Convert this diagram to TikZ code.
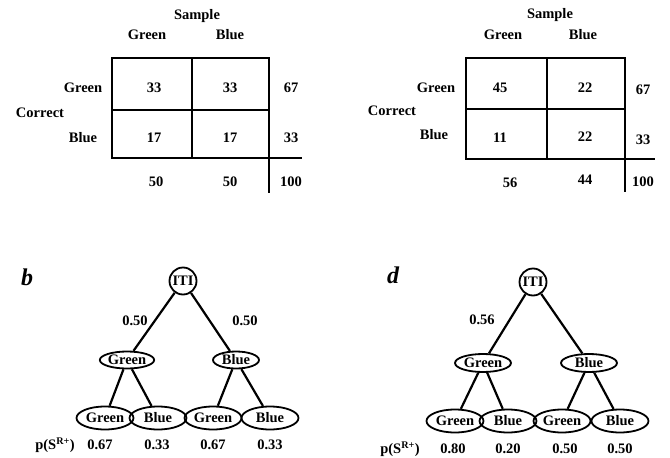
\documentclass[tikz,border=0pt]{standalone}
\usepackage{fontspec}
\setmainfont{Liberation Serif}
\usetikzlibrary{shapes.geometric}

\begin{document}
\begin{tikzpicture}[x=1pt,y=-1pt,
  lbl/.style={font=\fontsize{14.5}{16}\selectfont\bfseries, inner sep=0pt},
  panel/.style={font=\fontsize{24}{26}\selectfont\bfseries\itshape, inner sep=0pt},
  grid/.style={line width=2.2pt},
  edge/.style={line width=2.2pt},
  iti/.style={circle, draw, line width=1.8pt, inner sep=0pt, minimum size=27, lbl},
  midB/.style={ellipse, draw, line width=1.8pt, inner sep=0pt, minimum width=46, minimum height=17, lbl},
  midD/.style={ellipse, draw, line width=1.8pt, inner sep=0pt, minimum width=56, minimum height=18, lbl},
  leaf/.style={ellipse, draw, line width=1.8pt, inner sep=0pt, minimum width=57, minimum height=23, lbl},
]
\useasboundingbox (0,0) rectangle (670,458);

% ---------- contingency table, left ----------
\draw[grid] (112,58) rectangle (269,158);
\draw[grid] (192,58) -- (192,158);
\draw[grid] (112,110) -- (269,110);
\draw[grid] (269,158) -- (302,158);
\draw[grid] (269,158) -- (269,193);
\node[lbl] (sa) at (197,16) {Sample};
\node[lbl] (sag) at (147,35) {Green};
\node[lbl] (sab) at (230,35) {Blue};
\node[lbl] (cag) at (83,88) {Green};
\node[lbl] (ca) at (40,113) {Correct};
\node[lbl] (cab) at (83,138) {Blue};
\node[lbl] (a11) at (154,88) {33};
\node[lbl] (a12) at (230,88) {33};
\node[lbl] (a1t) at (291,88) {67};
\node[lbl] (a21) at (154,138) {17};
\node[lbl] (a22) at (230,138) {17};
\node[lbl] (a2t) at (291,138) {33};
\node[lbl] (at1) at (156,182) {50};
\node[lbl] (at2) at (230,182) {50};
\node[lbl] (att) at (291,182) {100};

% ---------- contingency table, right ----------
\draw[grid] (466,58) rectangle (625,159);
\draw[grid] (547,58) -- (547,159);
\draw[grid] (466,109) -- (625,109);
\draw[grid] (625,159) -- (655,159);
\draw[grid] (625,159) -- (625,192);
\node[lbl] (sc) at (550,15) {Sample};
\node[lbl] (scg) at (503,35) {Green};
\node[lbl] (scb) at (583,35) {Blue};
\node[lbl] (ccg) at (436,88) {Green};
\node[lbl] (cc) at (392,111) {Correct};
\node[lbl] (ccb) at (434,135) {Blue};
\node[lbl] (c11) at (500,88) {45};
\node[lbl] (c12) at (585,88) {22};
\node[lbl] (c1t) at (643,90) {67};
\node[lbl] (c21) at (500,138) {11};
\node[lbl] (c22) at (585,137) {22};
\node[lbl] (c2t) at (643,140) {33};
\node[lbl] (ct1) at (510,183) {56};
\node[lbl] (ct2) at (585,180) {44};
\node[lbl] (ctt) at (643,182) {100};

% ---------- tree b ----------
\node[panel] (pb) at (27,277) {b};
\node[iti] (bi) at (183,281) {ITI};
\node[midB] (bg) at (127,360) {Green};
\node[midB] (bb) at (236,360) {Blue};
\node[leaf] (bgg) at (105,418) {Green};
\node[leaf] (bgb) at (158,418) {Blue};
\node[leaf] (bbg) at (213,418) {Green};
\node[leaf] (bbb) at (270,418) {Blue};
\draw[edge] (bi) -- (bg);
\draw[edge] (bi) -- (bb);
\draw[edge] (bg) -- (bgg);
\draw[edge] (bg) -- (bgb);
\draw[edge] (bb) -- (bbg);
\draw[edge] (bb) -- (bbb);
\node[lbl] (bl1) at (135,321) {0.50};
\node[lbl] (bl2) at (245,321) {0.50};
\node[lbl] (bp) at (55,445) {p(S\textsuperscript{R+})};
\node[lbl] (bp1) at (100,445) {0.67};
\node[lbl] (bp2) at (157,445) {0.33};
\node[lbl] (bp3) at (213,445) {0.67};
\node[lbl] (bp4) at (270,445) {0.33};

% ---------- tree d ----------
\node[panel] (pd) at (393,275) {d};
\node[iti] (di) at (533,282) {ITI};
\node[midD] (dg) at (483,363) {Green};
\node[midD] (db) at (589,363) {Blue};
\node[leaf] (dgg) at (455,421) {Green};
\node[leaf] (dgb) at (508,421) {Blue};
\node[leaf] (dbg) at (562,421) {Green};
\node[leaf] (dbb) at (620,421) {Blue};
\draw[edge] (di) -- (dg);
\draw[edge] (di) -- (db);
\draw[edge] (dg) -- (dgg);
\draw[edge] (dg) -- (dgb);
\draw[edge] (db) -- (dbg);
\draw[edge] (db) -- (dbb);
\node[lbl] (dl1) at (482,320) {0.56};
\node[lbl] (dp) at (400,449) {p(S\textsuperscript{R+})};
\node[lbl] (dp1) at (453,449) {0.80};
\node[lbl] (dp2) at (508,449) {0.20};
\node[lbl] (dp3) at (565,449) {0.50};
\node[lbl] (dp4) at (620,449) {0.50};
\end{tikzpicture}
\end{document}
